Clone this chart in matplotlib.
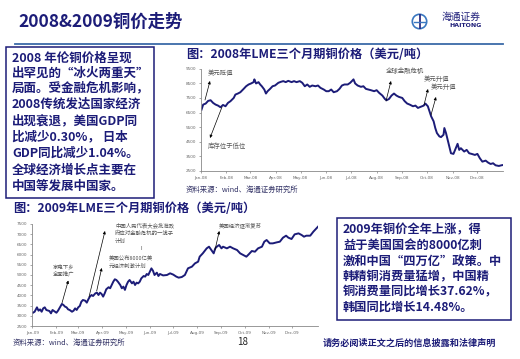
import numpy as np
import matplotlib.pyplot as plt
from matplotlib.patches import Rectangle, Circle

plt.rcParams['font.family'] = ['Noto Sans CJK SC', 'DejaVu Sans']

W, H = 520, 359
NAVY = '#1c1c78'

# 2008 LME 三个月期铜 (day of year, 美元/吨)
days_2008 = [1, 3, 6, 9, 12, 15, 18, 21, 24, 27, 30, 33, 36, 40, 42, 45, 48, 52, 55, 58,
             61, 64, 65, 67, 70, 72, 74, 77, 79, 81, 84, 87, 90, 94, 97, 100, 103, 106, 110, 113,
             116, 120, 123, 126, 129, 132, 135, 139, 142, 145, 149, 152, 155, 158, 161, 165, 168, 171, 174, 178,
             181, 183, 185, 187, 190, 194, 197, 200, 203, 206, 210, 213, 216, 220, 223, 225, 228, 231, 234, 237,
             240, 244, 247, 250, 253, 257, 260, 263, 266, 270, 272, 275, 277, 279, 282, 284, 286, 289, 291, 294,
             295, 297, 299, 301, 303, 306, 308, 311, 313, 315, 319, 322, 325, 328, 332, 335, 338, 341, 345, 348,
             351, 354, 357, 361, 364, 366]
price_2008 = [6700, 7045, 7113, 7297, 7343, 7160, 7045, 6975, 6860, 7020, 6930, 7160, 7275, 7500, 7730, 7800, 7890, 8120, 8300, 8420,
              8490, 8580, 8770, 8490, 8580, 8420, 8300, 8075, 7800, 7960, 8120, 8300, 8350, 8535, 8600, 8650, 8580, 8670, 8580, 8650,
              8580, 8650, 8535, 8300, 8420, 8260, 8350, 8300, 8350, 8190, 8075, 7960, 7960, 8075, 7890, 7960, 8120, 8350, 8420, 8420,
              8535, 8650, 8770, 8490, 8350, 8260, 8300, 8120, 8075, 8030, 7960, 8030, 7850, 7660, 7430, 7340, 7430, 7660, 7800, 7660,
              7570, 7500, 7275, 7115, 7045, 6930, 6975, 6815, 6885, 6975, 7115, 6930, 6585, 6240, 5900, 5440, 5095, 4865, 4820, 4980,
              5440, 5095, 4635, 4175, 3715, 3670, 3945, 4360, 3945, 4060, 3830, 3945, 3715, 3670, 3600, 3670, 3370, 3140, 3210, 3075,
              2980, 3030, 2890, 2845, 2890, 2910]

# 2009 LME 三个月期铜
days_2009 = [1, 3, 6, 8, 10, 12, 14, 16, 18, 22, 24, 26, 29, 31, 33, 36, 38, 40, 42, 44,
             46, 48, 51, 53, 55, 57, 59, 61, 63, 65, 68, 70, 72, 74, 76, 78, 81, 83, 85, 87,
             89, 91, 93, 95, 98, 100, 102, 104, 106, 108, 110, 113, 115, 117, 119, 121, 123, 125, 128, 130,
             132, 134, 136, 138, 140, 143, 145, 147, 149, 151, 153, 155, 157, 160, 162, 164, 168, 173, 177, 181,
             185, 188, 192, 196, 200, 205, 209, 213, 215, 219, 224, 227, 230, 233, 235, 237, 240, 243, 245, 250,
             254, 258, 263, 267, 271, 275, 278, 282, 286, 290, 295, 298, 301, 305, 309, 314, 318, 322, 326, 329,
             333, 337, 342, 346, 349, 352, 357, 361, 365, 367]
price_2009 = [3153, 3200, 3415, 3250, 3315, 3200, 3365, 3415, 3285, 3235, 3120, 3285, 3200, 3150, 3250, 3450, 3580, 3530, 3450, 3415,
              3315, 3285, 3200, 3250, 3365, 3285, 3415, 3480, 3690, 3775, 3740, 3645, 3810, 3940, 4020, 3970, 4100, 4135, 4020, 4135,
              4070, 3940, 4100, 4300, 4400, 4350, 4510, 4670, 4790, 4755, 4670, 4510, 4350, 4430, 4270, 4510, 4670, 4755, 4590, 4670,
              4510, 4625, 4590, 4670, 4835, 4950, 4920, 5050, 5000, 5165, 5325, 5210, 5000, 5115, 4950, 5050, 4980, 5000, 5083, 5020,
              4920, 4870, 4900, 5000, 5327, 5408, 5571, 5653, 5898, 6061, 6306, 6388, 6225, 6061, 6306, 6388, 6470, 6306, 6388, 6306,
              6388, 6306, 6225, 6061, 5980, 5898, 6012, 6176, 6143, 6306, 6388, 6633, 6715, 6551, 6551, 6600, 6633, 6829, 6927, 6829,
              6764, 6992, 7041, 6960, 6878, 6927, 6927, 7123, 7286, 7368]

month_start_2008 = [0, 31, 60, 91, 121, 152, 182, 213, 244, 274, 305, 335]
month_start_2009 = [0, 31, 59, 90, 120, 151, 181, 212, 243, 273, 304, 334]
month_names = ['Jan', 'Feb', 'Mar', 'Apr', 'May', 'Jun', 'Jul', 'Aug', 'Sep', 'Oct', 'Nov', 'Dec']
yticks_2008 = [2500, 3500, 4500, 5500, 6500, 7500, 8500, 9500]
yticks_2009 = [2500, 3000, 3500, 4000, 4500, 5000, 5500, 6000, 6500, 7000, 7500]

left_text = ['2008 年伦铜价格呈现', '出罕见的“冰火两重天”', '局面。受金融危机影响，',
             '2008传统发达国家经济', '出现衰退，美国GDP同', '比减少0.30%， 日本',
             'GDP同比减少1.04%。', '全球经济增长点主要在', '中国等发展中国家。']
right_text = ['2009年铜价全年上涨，得', '益于美国国会的8000亿刺', '激和中国“四万亿”政策。中',
              '韩精铜消费量猛增，中国精', '铜消费量同比增长37.62%，', '韩国同比增长14.48%。']


def rect(l, t, r, b):
    return [l / W, 1 - b / H, (r - l) / W, (b - t) / H]


def style_axis(ax, xlim, ylim, yticks, mstarts, yr):
    ax.set_xlim(*xlim)
    ax.set_ylim(*ylim)
    ax.set_yticks(yticks)
    ax.set_yticklabels([str(v) for v in yticks])
    ax.set_xticks(mstarts)
    ax.set_xticklabels([m + '-' + yr for m in month_names])
    for s in ['top', 'right']:
        ax.spines[s].set_visible(False)
    for s in ['left', 'bottom']:
        ax.spines[s].set_color('#888888')
        ax.spines[s].set_linewidth(0.6)
    ax.tick_params(labelsize=3, colors='#666666', length=1.5, width=0.4, pad=2)
    for lab in ax.get_xticklabels() + ax.get_yticklabels():
        lab.set_family('DejaVu Sans')
    ax.patch.set_alpha(0)


fig = plt.figure(figsize=(5.2, 3.59), dpi=100)

ax1 = fig.add_axes(rect(200.7, 68.7, 503, 171))
ax1.plot(days_2008, price_2008, color=NAVY, lw=1.4)
style_axis(ax1, (0, 366), (2500, 9500), yticks_2008, month_start_2008, '08')

ax2 = fig.add_axes(rect(32.3, 224, 318, 326))
ax2.plot(days_2009, price_2009, color=NAVY, lw=1.4)
style_axis(ax2, (0, 367), (2500, 7500), yticks_2009, month_start_2009, '09')

# overlay in pixel coordinates for the slide elements
ov = fig.add_axes([0, 0, 1, 1])
ov.set_xlim(0, W)
ov.set_ylim(H, 0)
ov.axis('off')
ov.set_zorder(5)

ov.text(18, 22, '2008&2009铜价走势', fontsize=12.5, fontweight='bold', color=NAVY, va='center')
ov.plot([15, 503], [43.5, 43.5], color='#3b6aa8', lw=1.3)

# logo
ov.add_patch(Circle((419.5, 21.5), 7.2, facecolor='white', edgecolor='#3a78c0', lw=1.2))
ov.plot([419.5, 419.5], [15, 28], color=NAVY, lw=1.2)
ov.plot([414, 425], [21.5, 21.5], color='#3a78c0', lw=1.0)
ov.text(461, 17, '海通证券', fontsize=7, color=NAVY, ha='center', va='center', style='italic')
ov.text(466, 25.5, 'HAITONG', fontsize=4.5, color=NAVY, ha='center', va='center',
        fontweight='bold', family='DejaVu Sans')

# left text box
ov.add_patch(Rectangle((6, 47), 148, 151, fill=False, edgecolor=NAVY, lw=1.1))
for i, line in enumerate(left_text):
    y = [58, 73, 88, 104, 121, 137, 153, 170, 186][i]
    ov.text(12, y, line, fontsize=9.0, fontweight='bold', color=NAVY, va='center')

# right text box
ov.add_patch(Rectangle((337, 218), 174, 102, fill=False, edgecolor=NAVY, lw=1.1))
for i, line in enumerate(right_text):
    ov.text(343, 230 + 15.5 * i, line, fontsize=8.8, fontweight='bold', color=NAVY, va='center')

# chart titles and sources
ov.text(186, 54, '图：2008年LME三个月期铜价格（美元/吨）', fontsize=8.8, fontweight='bold', color=NAVY, va='center')
ov.text(13, 209, '图：2009年LME三个月期铜价格（美元/吨）', fontsize=8.8, fontweight='bold', color=NAVY, va='center')
ov.text(186, 190, '资料来源：wind、海通证券研究所', fontsize=5.3, color='#333366', va='center')
ov.text(13, 343, '资料来源：wind、海通证券研究所', fontsize=5.3, color='#333366', va='center')
ov.text(243, 342, '18', fontsize=7, color='#222222', ha='center', va='center')
ov.text(323, 343, '请务必阅读正文之后的信息披露和法律声明', fontsize=6.6, fontweight='bold', color=NAVY, va='center')

ann = dict(fontsize=4.6, color='#555555', va='center')
ann2 = dict(fontsize=3.9, color='#555555', va='center')
arr = dict(arrowstyle='-|>', color='black', lw=0.5, mutation_scale=4, shrinkA=0, shrinkB=0)

# 2008 annotations
ov.text(208, 73, '美元贬值', **ann)
ov.annotate('', xy=(210, 81), xytext=(205, 100), arrowprops=arr)
ov.text(208, 146, '库存位于低位', **ann)
ov.annotate('', xy=(210, 138), xytext=(222, 107), arrowprops=arr)
ov.text(386, 71, '全球金融危机', **ann)
ov.annotate('', xy=(391, 81), xytext=(386, 101), arrowprops=arr)
ov.text(424, 79, '美元升值', **ann)
ov.annotate('', xy=(428, 89), xytext=(424, 105), arrowprops=arr)
ov.text(431, 87, '美元升值', **ann)
ov.annotate('', xy=(436, 97), xytext=(431, 115), arrowprops=arr)

# 2009 annotations
ov.text(52.7, 266.7, '家电下乡', **ann2)
ov.text(52.7, 273.5, '全面推广', **ann2)
ov.annotate('', xy=(68.3, 280.5), xytext=(62, 303), arrowprops=arr)
ov.text(115, 225, '中国人民代表大会批准政', **ann2)
ov.text(115, 233, '府应对金融危机的一揽子', **ann2)
ov.text(115, 241, '计划', **ann2)
ov.annotate('', xy=(105, 231), xytext=(89, 297), arrowprops=arr)
ov.text(141.7, 248.5, 'I', fontsize=4, color='#555555', ha='center', va='center')
ov.text(108.5, 258.5, '美国公布8000亿美', **ann2)
ov.text(108.5, 266, '元经济刺激计划', **ann2)
ov.annotate('', xy=(101.7, 268), xytext=(96.7, 291), arrowprops=arr)
ov.text(218.3, 225, '美国经济逐渐复苏', **ann2)
ov.annotate('', xy=(219.3, 231), xytext=(215, 250), arrowprops=arr)

fig.savefig('out.png', dpi=100)
